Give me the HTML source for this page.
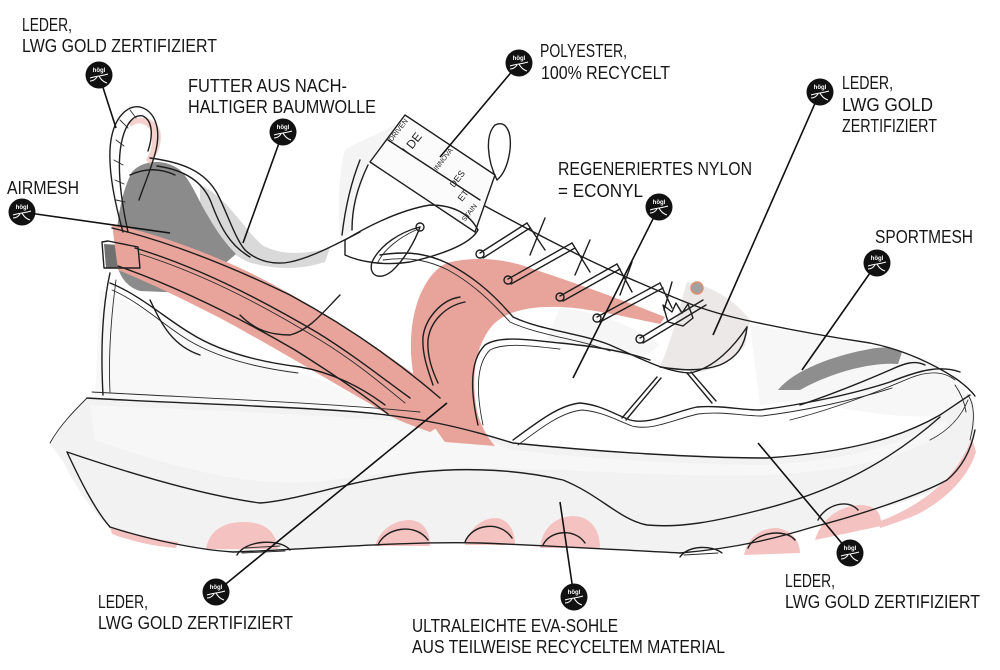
<!DOCTYPE html>
<html><head><meta charset="utf-8"><style>
html,body{margin:0;padding:0;background:#fff;}
svg{display:block;}
text.l{font-family:"Liberation Sans",sans-serif;font-size:18px;fill:#161616;}
.s{fill:none;stroke:#1e1e1e;stroke-width:1.4;stroke-linecap:round;stroke-linejoin:round;}
.t{fill:none;stroke:#2a2a2a;stroke-width:0.9;stroke-linecap:round;}
.c{stroke:#111;stroke-width:1.6;fill:none;}
</style></head><body>
<svg width="1000" height="670" viewBox="0 0 1000 670" xmlns="http://www.w3.org/2000/svg">
<rect width="1000" height="670" fill="#fff"/>

<!-- midsole fill -->
<path d="M87,398 C150,402 250,405 330,410 C420,415 470,430 513,443 C600,452 700,458 767,458 C850,452 900,438 940,415 C955,405 965,398 970,395 C976,410 976,425 972,440 C965,462 950,478 935,490 C900,505 860,515 813,527 C780,537 740,548 680,553 C620,550 560,546 480,543 C400,541 300,550 233,552 C200,550 150,540 110,527 C90,510 75,485 62,460 C55,450 50,445 50,443 C60,425 75,410 87,398 Z" fill="#f2f2f2"/>
<path d="M90,405 C200,410 330,415 420,423 C470,430 500,445 513,450 C600,460 700,465 767,465 C850,460 900,445 945,420 L950,430 C900,460 850,470 767,475 C680,478 600,470 540,470 C470,465 400,470 330,480 C260,490 180,470 95,440 Z" fill="#f7f7f7"/>

<!-- upper light shading -->
<path d="M100,290 C150,310 200,340 260,360 C300,372 340,385 370,405 L330,410 C250,405 150,402 95,398 Z" fill="#f8f8f8"/>
<path d="M200,185 C225,195 245,230 262,245 C280,255 300,255 330,248 L325,262 C300,270 275,270 248,262 C222,250 210,225 200,205 Z" fill="#d9d9d9"/>
<path d="M345,150 C360,140 380,135 405,118 L370,162 C362,180 355,205 352,230 L340,240 C338,210 338,175 345,150 Z" fill="#f4f4f4"/>
<path d="M687,282 C710,285 735,300 750,320 L745,345 C735,360 720,368 700,372 L660,367 C672,340 680,305 687,282 Z" fill="#ebe8e7"/>
<path d="M750,325 C800,332 860,342 900,352 C930,362 955,378 970,395 L940,415 C900,420 850,410 800,400 L760,405 Z" fill="#f7f7f7"/>
<path d="M560,308 C600,312 630,325 660,345 L640,360 C610,350 580,345 545,343 Z" fill="#f6f6f6"/>

<!-- dark gray heel mesh -->
<path d="M132,172 C142,160 165,158 180,170 C192,182 198,200 208,216 C217,232 226,244 236,254 L222,266 C212,278 205,290 188,293 L140,291 C124,286 116,272 116,252 C116,222 122,190 132,172 Z" fill="#8b8b8b"/>
<path d="M104,244 L134,246 L140,268 L106,268 Z" fill="#707070"/>
<path d="M128,122 C138,114 155,117 160,130 C163,142 158,155 150,165 L146,160 C152,150 154,138 150,130 C145,122 136,122 131,127 Z" fill="#ecb3ac" opacity="0.6"/>
<!-- gray toe mesh -->
<path d="M778,390 C792,372 830,356 870,349 C885,346 896,348 902,352 L898,364 C872,362 832,372 800,390 Z" fill="#8e8e8e"/>
<circle cx="697" cy="288" r="6" fill="#a0a0a0" stroke="#e09070" stroke-width="1.5"/>

<!-- pink stripe -->
<path d="M112,224 C160,235 200,250 240,268 C300,296 360,335 425,382 L450,420 L430,432 C410,425 390,418 372,405 C320,375 270,345 220,318 C185,300 150,283 118,270 Z" fill="#e8a39b"/>
<!-- pink swoosh -->
<path d="M447,263 C470,257 500,257 530,268 C570,281 620,299 665,317 L660,324 C630,318 590,308 560,307 C530,306 505,311 492,326 C475,346 470,380 478,415 C482,428 488,438 495,446 L445,442 C430,422 418,402 415,382 C408,352 410,320 420,295 C428,278 436,268 447,263 Z" fill="#e8a39b"/>
<path d="M380,350 C400,365 420,380 433,400 L440,430 L400,418 L380,405 Z" fill="#e8a39b"/>

<!-- pink lugs -->
<g fill="#f4c3c1">
<path d="M110,527 C140,536 160,540 178,542 L176,548 C150,546 128,540 112,534 Z"/>
<path d="M206,549 C209,530 224,522 244,522 C264,522 276,531 278,549 Z"/>
<path d="M375,546 C380,528 396,520 410,520 C424,521 430,532 430,546 Z"/>
<path d="M465,545 C470,526 484,518 496,518 C508,519 515,530 515,545 Z"/>
<path d="M540,548 C542,526 558,516 574,516 C591,517 600,530 600,548 Z"/>
<path d="M744,555 C748,536 762,528 776,528 C790,529 800,540 800,553 Z"/>
<path d="M815,540 C822,516 843,505 862,505 C877,506 882,514 881,526 Z"/>
<path d="M878,522 C905,512 932,496 951,474 C962,460 968,448 972,438 L976,452 C968,478 945,500 918,514 C905,520 892,524 880,528 Z"/>
</g>

<!-- sketch lines: heel -->
<path class="s" d="M123,232 C114,200 107,165 111,140 C115,115 129,105 140,107 C155,111 161,128 156,150 C151,170 144,185 139,200"/>
<path class="s" d="M128,232 C121,200 117,168 121,145 C125,123 134,114 143,116 C153,121 153,136 148,151"/>
<path class="t" d="M116,140 L124,146 M114,160 L123,165 M115,180 L124,184 M116,200 L125,202 M120,120 L128,128 M130,110 L136,118"/>
<path class="s" d="M110,273 C104,300 100,340 103,395"/>
<path class="t" d="M116,280 C112,310 108,350 110,392"/>
<path class="s" d="M102,242 L108,241 L138,247 L140,268 L104,268 Z"/>
<path class="s" d="M150,158 C180,162 205,170 218,195 C228,215 235,238 245,250 C258,262 275,265 290,262 C310,258 335,245 360,232"/>
<path class="s" d="M157,166 C185,170 203,182 211,202 C220,226 229,245 250,257"/>
<path class="s" d="M130,175 C145,168 160,168 175,175"/>

<!-- stripe outlines -->
<path class="s" d="M112,228 C170,242 230,266 290,295 C340,322 390,355 440,398"/>
<path class="s" d="M118,266 C180,288 240,318 295,350 C330,372 360,392 388,414"/>
<path class="s" d="M135,248 C195,266 255,296 318,333 C355,356 385,380 410,398"/>
<path class="t" d="M140,254 C200,273 258,302 320,340 C356,362 383,385 405,403"/>
<path class="s" d="M110,283 C140,295 165,318 190,333 C220,352 260,362 300,367 C330,372 360,386 385,405"/>
<path class="t" d="M112,290 C140,302 162,324 188,340 C218,358 258,368 298,373"/>
<path class="s" d="M150,300 C160,320 170,345 200,355"/>
<path class="s" d="M240,315 C255,330 270,335 290,335 C310,330 325,310 340,295"/>

<!-- swoosh outlines -->
<path class="s" d="M460,297 C440,300 425,320 423,337 C422,355 428,370 433,385"/>
<path class="s" d="M465,302 C445,306 430,322 428,340 C427,356 432,370 438,383"/>
<path class="s" d="M478,425 C470,390 470,360 485,345 C500,335 530,340 560,343 C590,346 620,350 650,360"/>
<path class="t" d="M483,425 C476,392 476,364 490,350 C505,342 532,346 560,349"/>
<path class="s" d="M380,255 C410,250 430,255 447,263 C470,275 490,290 513,317 C540,330 580,333 610,345 C640,358 665,372 690,373 C715,368 735,345 747,327"/>
<path class="t" d="M383,260 C412,256 432,262 448,270 C470,282 488,298 510,322 C540,336 580,339 610,351"/>

<!-- lower upper panel wavy line -->
<path class="s" d="M513,440 C540,420 560,405 580,403 C600,405 610,412 630,420 C650,425 670,413 697,407 C720,405 740,410 760,410 C800,405 850,395 890,382 C920,370 940,365 960,372"/>
<path class="t" d="M518,445 C542,427 562,412 582,410 C602,412 612,418 632,426 C652,431 672,420 698,414 C722,411 742,416 762,416 C802,411 852,401 892,388"/>
<path class="s" d="M657,377 L622,418 M661,378 L626,420"/>
<path class="s" d="M687,373 L712,403 M691,372 L716,401"/>
<path class="s" d="M747,327 C745,345 738,357 720,365 C700,372 680,370 660,367"/>
<path class="s" d="M800,405 C830,395 860,383 890,370 C905,363 915,360 925,365"/>
<path class="t" d="M790,420 C830,410 870,395 910,378 C930,370 945,372 955,380"/>

<!-- vamp top line -->
<path class="s" d="M470,198 C520,225 580,258 640,283 C680,300 700,310 745,320 C790,330 830,337 870,343 C905,350 935,365 955,378 C965,385 972,392 975,396"/>
<path class="t" d="M955,385 C962,395 965,405 966,412"/>

<!-- tongue and tag -->
<path class="s" d="M360,160 C350,185 345,210 342,235"/>
<path class="s" d="M368,165 C356,190 352,210 352,230"/>
<polygon points="405,115 495,175 475,232 370,162" fill="#fbfbfb" stroke="#1e1e1e" stroke-width="1.4" stroke-linejoin="round"/>
<path class="s" d="M388,140 L480,200"/>
<g font-family="Liberation Sans, sans-serif" font-size="7" fill="#222">
<text transform="translate(392,142) rotate(-52)">DRIVEN</text>
<text transform="translate(408,155) rotate(-52)" font-size="12">I DE</text>
<text transform="translate(437,171) rotate(-52)">INNOVA</text>
<text transform="translate(454,188) rotate(-52)" font-size="9">DES</text>
<text transform="translate(462,202) rotate(-52)" font-size="9">ET</text>
<text transform="translate(465,222) rotate(-52)">STAIN</text>
</g>
<path class="s" d="M497,180 C487,160 485,135 495,125 C505,120 512,130 510,150 C508,165 503,175 497,180"/>

<!-- eyestay outline -->
<path class="s" d="M345,240 C370,225 400,210 430,205 C455,205 470,215 478,230 C470,245 440,255 410,262 C385,266 360,262 345,255 Z"/>
<!-- lace loop -->
<path class="s" d="M420,227 C400,232 380,245 372,262 C368,276 380,281 392,271 C405,259 415,241 420,227"/>
<path class="t" d="M416,230 C398,238 384,250 378,262"/>
<circle cx="420" cy="227" r="4" class="s" fill="#fff"/>

<!-- laces -->
<g>
<path class="s" d="M480,253 L527,223 M483,258 L530,228"/>
<path class="s" d="M508,279 L572,243 M511,284 L575,248"/>
<path class="s" d="M560,296 L617,264 M563,301 L620,269"/>
<path class="s" d="M597,317 L660,283 M600,322 L663,288"/>
<path class="s" d="M640,338 L703,300 M643,343 L706,305"/>
<path class="s" d="M527,223 L545,250 M545,218 L530,255 M572,243 L590,272 M590,240 L575,275 M617,264 L632,292 M632,262 L620,295 M660,283 L672,308 M672,282 L664,310"/>
<circle cx="480" cy="254" r="4" class="s" fill="#f1d6d3"/>
<circle cx="508" cy="280" r="4" class="s" fill="#f1d6d3"/>
<circle cx="560" cy="297" r="4" class="s" fill="#f1d6d3"/>
<circle cx="597" cy="318" r="4" class="s" fill="#fff"/>
<circle cx="640" cy="339" r="4" class="s" fill="#fff"/>
<path class="s" d="M663,305 L672,312 L676,303 L682,313 L688,304 L693,318 L683,326 L668,322 Z" fill="#fff"/>
</g>

<!-- midsole lines -->
<path class="s" d="M87,398 C150,402 250,405 330,410 C420,415 470,430 513,443 C600,452 700,458 767,458 C850,452 900,438 940,415 C955,405 965,398 970,395"/>
<path class="t" d="M92,392 C200,398 330,403 420,412"/>
<path class="s" d="M67,452 C120,470 200,495 260,503 C300,500 350,480 420,472 C470,467 520,470 563,480 C600,495 620,520 647,525 C680,528 713,522 760,510 C820,495 880,470 940,417"/>
<path class="s" d="M110,527 C150,540 200,550 233,552 C300,550 400,541 480,543 C560,546 620,550 680,553 C740,548 780,537 813,527 C860,515 920,495 947,480 C965,465 972,445 975,430"/>
<path class="t" d="M87,398 C75,410 60,425 50,443"/>
<path class="s" d="M67,452 C80,480 95,510 110,527"/>
<path class="t" d="M968,395 C975,405 975,420 970,440"/>
<path class="t" d="M930,440 C950,430 962,415 968,400"/>
<!-- lug outlines -->
<path class="s" d="M237,555 C245,540 280,538 290,550"/>
<path class="t" d="M242,553 L285,551 M245,548 L280,546"/>
<path class="s" d="M378,545 C385,528 415,522 428,540"/>
<path class="s" d="M465,542 C472,524 500,520 512,538"/>
<path class="s" d="M543,545 C550,530 575,528 585,543"/>
<path class="s" d="M680,557 C688,545 712,545 722,553"/>
<path class="t" d="M684,555 L718,553"/>
<path class="s" d="M748,548 C755,532 785,528 795,540"/>
<path class="s" d="M818,520 C825,505 848,498 858,510"/>

<!-- connectors -->
<path class="c" d="M99,75 L116,128"/>
<path class="c" d="M283,132 L243,243"/>
<path class="c" d="M22,212 L170,233"/>
<path class="c" d="M519,63 L440,157"/>
<path class="c" d="M659,207 L573,378"/>
<path class="c" d="M820,92 L713,335"/>
<path class="c" d="M877,263 L802,370"/>
<path class="c" d="M216,592 L447,403"/>
<path class="c" d="M574,597 L560,502"/>
<path class="c" d="M850,553 L758,443"/>

<!-- badges -->
<g font-family="Liberation Sans, sans-serif" font-size="6" font-weight="bold" fill="#fff" text-anchor="middle">
<g transform="translate(99,75)"><circle r="13.5" fill="#111"/><text y="-3">högl</text><path d="M-9,3 C-3,1 3,1 9,-1 M0,1 C2,5 5,7 8,8 M-2,2 C-4,5 -7,6 -9,6" stroke="#fff" stroke-width="1.1" fill="none"/></g>
<g transform="translate(283,132)"><circle r="13.5" fill="#111"/><text y="-3">högl</text><path d="M-9,3 C-3,1 3,1 9,-1 M0,1 C2,5 5,7 8,8 M-2,2 C-4,5 -7,6 -9,6" stroke="#fff" stroke-width="1.1" fill="none"/></g>
<g transform="translate(22,212)"><circle r="13.5" fill="#111"/><text y="-3">högl</text><path d="M-9,3 C-3,1 3,1 9,-1 M0,1 C2,5 5,7 8,8 M-2,2 C-4,5 -7,6 -9,6" stroke="#fff" stroke-width="1.1" fill="none"/></g>
<g transform="translate(519,63)"><circle r="13.5" fill="#111"/><text y="-3">högl</text><path d="M-9,3 C-3,1 3,1 9,-1 M0,1 C2,5 5,7 8,8 M-2,2 C-4,5 -7,6 -9,6" stroke="#fff" stroke-width="1.1" fill="none"/></g>
<g transform="translate(659,207)"><circle r="13.5" fill="#111"/><text y="-3">högl</text><path d="M-9,3 C-3,1 3,1 9,-1 M0,1 C2,5 5,7 8,8 M-2,2 C-4,5 -7,6 -9,6" stroke="#fff" stroke-width="1.1" fill="none"/></g>
<g transform="translate(820,92)"><circle r="13.5" fill="#111"/><text y="-3">högl</text><path d="M-9,3 C-3,1 3,1 9,-1 M0,1 C2,5 5,7 8,8 M-2,2 C-4,5 -7,6 -9,6" stroke="#fff" stroke-width="1.1" fill="none"/></g>
<g transform="translate(877,263)"><circle r="13.5" fill="#111"/><text y="-3">högl</text><path d="M-9,3 C-3,1 3,1 9,-1 M0,1 C2,5 5,7 8,8 M-2,2 C-4,5 -7,6 -9,6" stroke="#fff" stroke-width="1.1" fill="none"/></g>
<g transform="translate(216,592)"><circle r="13.5" fill="#111"/><text y="-3">högl</text><path d="M-9,3 C-3,1 3,1 9,-1 M0,1 C2,5 5,7 8,8 M-2,2 C-4,5 -7,6 -9,6" stroke="#fff" stroke-width="1.1" fill="none"/></g>
<g transform="translate(574,597)"><circle r="13.5" fill="#111"/><text y="-3">högl</text><path d="M-9,3 C-3,1 3,1 9,-1 M0,1 C2,5 5,7 8,8 M-2,2 C-4,5 -7,6 -9,6" stroke="#fff" stroke-width="1.1" fill="none"/></g>
<g transform="translate(850,553)"><circle r="13.5" fill="#111"/><text y="-3">högl</text><path d="M-9,3 C-3,1 3,1 9,-1 M0,1 C2,5 5,7 8,8 M-2,2 C-4,5 -7,6 -9,6" stroke="#fff" stroke-width="1.1" fill="none"/></g>
</g>

<!-- labels -->
<text class="l" x="22" y="31" textLength="50" lengthAdjust="spacingAndGlyphs">LEDER,</text>
<text class="l" x="22" y="52" textLength="195" lengthAdjust="spacingAndGlyphs">LWG GOLD ZERTIFIZIERT</text>
<text class="l" x="188" y="92" textLength="159" lengthAdjust="spacingAndGlyphs">FUTTER AUS NACH-</text>
<text class="l" x="188" y="113" textLength="188" lengthAdjust="spacingAndGlyphs">HALTIGER BAUMWOLLE</text>
<text class="l" x="7" y="194" textLength="72" lengthAdjust="spacingAndGlyphs">AIRMESH</text>
<text class="l" x="540" y="57" textLength="87" lengthAdjust="spacingAndGlyphs">POLYESTER,</text>
<text class="l" x="541" y="79" textLength="129" lengthAdjust="spacingAndGlyphs">100% RECYCELT</text>
<text class="l" x="558" y="175" textLength="194" lengthAdjust="spacingAndGlyphs">REGENERIERTES NYLON</text>
<text class="l" x="558" y="197" textLength="85" lengthAdjust="spacingAndGlyphs">= ECONYL</text>
<text class="l" x="842" y="89" textLength="51" lengthAdjust="spacingAndGlyphs">LEDER,</text>
<text class="l" x="842" y="111" textLength="91" lengthAdjust="spacingAndGlyphs">LWG GOLD</text>
<text class="l" x="842" y="132" textLength="95" lengthAdjust="spacingAndGlyphs">ZERTIFIZIERT</text>
<text class="l" x="875" y="243" textLength="98" lengthAdjust="spacingAndGlyphs">SPORTMESH</text>
<text class="l" x="98" y="608" textLength="50" lengthAdjust="spacingAndGlyphs">LEDER,</text>
<text class="l" x="98" y="629" textLength="195" lengthAdjust="spacingAndGlyphs">LWG GOLD ZERTIFIZIERT</text>
<text class="l" x="412" y="632" textLength="206" lengthAdjust="spacingAndGlyphs">ULTRALEICHTE EVA-SOHLE</text>
<text class="l" x="412" y="653" textLength="313" lengthAdjust="spacingAndGlyphs">AUS TEILWEISE RECYCELTEM MATERIAL</text>
<text class="l" x="785" y="587" textLength="50" lengthAdjust="spacingAndGlyphs">LEDER,</text>
<text class="l" x="785" y="608" textLength="195" lengthAdjust="spacingAndGlyphs">LWG GOLD ZERTIFIZIERT</text>
</svg>
</body></html>
